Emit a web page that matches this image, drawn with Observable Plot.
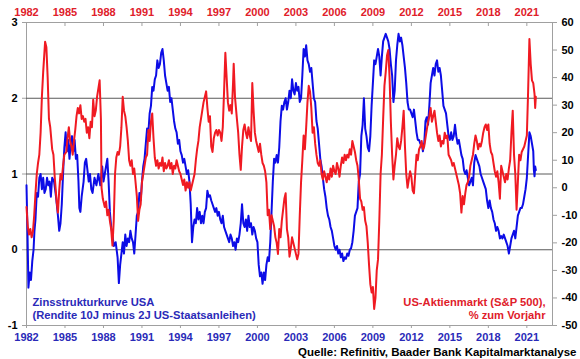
<!DOCTYPE html>
<html><head><meta charset="utf-8">
<script src="https://cdn.jsdelivr.net/npm/d3@7"></script>
<script src="https://cdn.jsdelivr.net/npm/@observablehq/plot@0.6"></script>
<style>body{margin:0;background:#fff} svg{display:block}</style>
</head><body><div id="chart"></div>
<script>
// Zinsstrukturkurve USA (10J minus 2J), Prozentpunkte — [Jahr, Wert]
const spread = [
[1982.0,0.85],[1982.08,0.2],[1982.15,-0.5],[1982.25,-0.3],[1982.35,-0.4],[1982.45,-0.15],[1982.55,0.0],[1982.62,0.25],[1982.7,0.4],[1982.8,0.75],[1982.9,0.7],
[1983.0,0.95],[1983.1,1.0],[1983.2,0.8],[1983.3,0.95],[1983.4,0.75],[1983.5,0.8],[1983.6,0.95],[1983.7,0.85],[1983.8,0.9],[1983.9,0.7],
[1984.0,0.95],[1984.15,0.9],[1984.3,0.7],[1984.45,0.45],[1984.55,0.25],[1984.65,0.35],[1984.75,0.6],[1984.85,1.0],[1984.95,1.35],
[1985.05,1.55],[1985.15,1.3],[1985.25,1.45],[1985.35,1.2],[1985.45,1.4],[1985.55,1.5],[1985.65,1.3],[1985.75,1.45],[1985.85,1.2],[1985.95,1.25],
[1986.05,0.9],[1986.12,0.55],[1986.2,0.5],[1986.3,0.7],[1986.45,0.9],[1986.55,1.15],[1986.65,1.2],[1986.75,1.05],[1986.85,0.9],[1986.95,1.0],
[1987.05,0.8],[1987.15,0.75],[1987.3,0.95],[1987.45,0.85],[1987.6,1.0],[1987.75,0.85],[1987.9,1.1],
[1988.0,0.9],[1988.15,1.05],[1988.3,1.2],[1988.4,0.9],[1988.5,0.5],[1988.6,0.3],[1988.7,0.2],[1988.8,0.05],[1988.95,0.1],
[1989.1,-0.1],[1989.2,-0.44],[1989.3,-0.2],[1989.4,-0.05],[1989.5,0.1],[1989.6,-0.05],[1989.7,0.2],[1989.8,0.05],[1989.9,0.15],
[1990.0,0.1],[1990.1,0.25],[1990.2,0.15],[1990.3,0.1],[1990.4,-0.05],[1990.5,0.2],[1990.6,0.45],[1990.7,0.5],[1990.8,0.75],[1990.9,0.65],
[1991.0,0.9],[1991.1,1.1],[1991.2,1.2],[1991.3,1.4],[1991.4,1.6],[1991.5,1.55],[1991.6,1.8],[1991.7,1.9],[1991.8,2.15],[1991.9,2.1],
[1992.0,2.25],[1992.1,2.3],[1992.2,2.5],[1992.3,2.4],[1992.4,2.45],[1992.5,2.6],[1992.6,2.65],[1992.7,2.5],[1992.8,2.3],[1992.9,2.2],
[1993.0,2.1],[1993.1,2.15],[1993.2,1.95],[1993.3,2.0],[1993.4,1.85],[1993.5,1.7],[1993.6,1.6],[1993.7,1.55],[1993.8,1.4],[1993.9,1.45],
[1994.0,1.3],[1994.1,1.25],[1994.2,1.15],[1994.3,1.2],[1994.4,1.1],[1994.5,1.0],[1994.6,1.05],[1994.7,0.9],[1994.8,0.6],[1994.9,0.1],
[1995.0,0.3],[1995.1,0.4],[1995.2,0.35],[1995.3,0.55],[1995.4,0.4],[1995.5,0.5],[1995.6,0.35],[1995.7,0.45],[1995.8,0.35],[1995.9,0.5],
[1996.0,0.55],[1996.1,0.78],[1996.2,0.7],[1996.3,0.72],[1996.4,0.65],[1996.5,0.6],[1996.6,0.55],[1996.7,0.5],[1996.8,0.55],[1996.9,0.45],
[1997.0,0.5],[1997.1,0.4],[1997.2,0.35],[1997.3,0.45],[1997.4,0.3],[1997.5,0.25],[1997.6,0.2],[1997.7,0.15],[1997.8,0.1],[1997.9,0.2],
[1998.0,0.15],[1998.1,0.05],[1998.2,0.1],[1998.3,0.0],[1998.4,0.15],[1998.5,0.1],[1998.6,0.2],[1998.7,0.35],[1998.8,0.6],[1998.9,0.35],
[1999.0,0.3],[1999.1,0.4],[1999.2,0.25],[1999.3,0.45],[1999.4,0.3],[1999.5,0.35],[1999.6,0.2],[1999.7,0.3],[1999.8,0.25],[1999.9,0.15],
[2000.0,0.1],[2000.1,-0.2],[2000.2,-0.35],[2000.3,-0.3],[2000.4,-0.45],[2000.5,-0.3],[2000.6,-0.4],[2000.7,-0.2],[2000.8,-0.1],[2000.9,-0.15],
[2001.0,0.1],[2001.1,0.5],[2001.2,0.9],[2001.3,1.2],[2001.4,1.15],[2001.5,1.25],[2001.6,1.15],[2001.7,1.35],[2001.8,1.7],[2001.9,1.9],
[2002.0,1.85],[2002.1,1.95],[2002.2,2.0],[2002.3,1.85],[2002.4,1.95],[2002.5,2.1],[2002.6,2.0],[2002.7,2.25],[2002.8,2.1],[2002.9,2.05],
[2003.0,2.2],[2003.1,2.1],[2003.2,2.15],[2003.3,1.95],[2003.4,2.0],[2003.5,2.3],[2003.6,2.65],[2003.7,2.55],[2003.8,2.7],[2003.9,2.5],
[2004.0,2.45],[2004.1,2.35],[2004.2,2.4],[2004.3,2.2],[2004.4,2.0],[2004.5,1.95],[2004.6,1.7],[2004.7,1.6],[2004.8,1.4],[2004.9,1.2],
[2005.0,1.1],[2005.1,0.95],[2005.2,0.8],[2005.3,0.7],[2005.4,0.55],[2005.5,0.45],[2005.6,0.4],[2005.7,0.3],[2005.8,0.25],[2005.9,0.15],
[2006.0,0.05],[2006.1,0.0],[2006.2,0.05],[2006.3,-0.05],[2006.4,0.0],[2006.5,-0.1],[2006.6,-0.05],[2006.7,-0.15],[2006.8,-0.1],[2006.9,-0.12],
[2007.0,-0.05],[2007.1,-0.08],[2007.2,0.0],[2007.3,0.02],[2007.4,0.1],[2007.5,0.25],[2007.6,0.45],[2007.7,0.5],[2007.8,0.55],[2007.9,0.9],
[2008.0,1.0],[2008.1,1.5],[2008.2,1.65],[2008.3,2.0],[2008.4,1.6],[2008.5,1.5],[2008.6,1.35],[2008.7,1.3],[2008.8,1.5],[2008.9,1.9],
[2009.0,2.2],[2009.1,2.5],[2009.2,2.45],[2009.3,2.55],[2009.4,2.65],[2009.5,2.55],[2009.6,2.3],[2009.7,2.55],[2009.8,2.75],[2009.9,2.8],
[2010.0,2.85],[2010.1,2.8],[2010.2,2.75],[2010.3,2.65],[2010.4,2.45],[2010.5,2.3],[2010.6,1.95],[2010.7,2.1],[2010.8,2.5],[2010.9,2.7],
[2011.0,2.85],[2011.1,2.75],[2011.2,2.8],[2011.3,2.7],[2011.4,2.55],[2011.5,2.4],[2011.6,2.2],[2011.7,1.95],[2011.8,1.85],[2011.9,1.85],
[2012.0,1.8],[2012.1,1.75],[2012.2,1.85],[2012.3,1.7],[2012.4,1.55],[2012.5,1.45],[2012.6,1.45],[2012.7,1.4],[2012.8,1.4],[2012.9,1.3],
[2013.0,1.4],[2013.1,1.7],[2013.2,1.75],[2013.3,1.65],[2013.4,1.9],[2013.5,2.2],[2013.6,2.3],[2013.7,2.4],[2013.8,2.3],[2013.9,2.45],
[2014.0,2.5],[2014.1,2.35],[2014.2,2.4],[2014.3,2.3],[2014.4,2.1],[2014.5,1.9],[2014.6,1.85],[2014.7,1.8],[2014.8,1.65],[2014.9,1.5],
[2015.0,1.45],[2015.1,1.55],[2015.2,1.45],[2015.3,1.5],[2015.4,1.65],[2015.5,1.5],[2015.6,1.4],[2015.7,1.45],[2015.8,1.35],[2015.9,1.25],
[2016.0,1.2],[2016.1,1.05],[2016.2,1.0],[2016.3,1.05],[2016.4,0.95],[2016.5,0.85],[2016.6,0.9],[2016.7,0.95],[2016.8,0.85],[2016.9,1.15],
[2017.0,1.25],[2017.1,1.2],[2017.2,1.15],[2017.3,1.1],[2017.4,1.0],[2017.5,0.95],[2017.6,0.9],[2017.7,0.85],[2017.8,0.8],[2017.9,0.65],
[2018.0,0.55],[2018.1,0.65],[2018.2,0.55],[2018.3,0.5],[2018.4,0.4],[2018.5,0.35],[2018.6,0.25],[2018.7,0.3],[2018.8,0.25],[2018.9,0.15],
[2019.0,0.18],[2019.1,0.15],[2019.2,0.2],[2019.3,0.15],[2019.4,0.1],[2019.5,0.05],[2019.6,-0.05],[2019.65,0.0],[2019.7,0.05],[2019.8,0.15],[2019.9,0.2],
[2020.0,0.25],[2020.1,0.15],[2020.2,0.3],[2020.3,0.45],[2020.4,0.5],[2020.5,0.55],[2020.6,0.55],[2020.7,0.6],[2020.8,0.7],[2020.9,0.8],
[2021.0,0.95],[2021.1,1.25],[2021.2,1.55],[2021.3,1.5],[2021.4,1.4],[2021.5,1.3],[2021.55,1.05],[2021.6,0.97],[2021.65,1.1],[2021.7,1.05]
];

// US-Aktienmarkt (S&P 500), % zum Vorjahr — [Jahr, Wert]
const sp500 = [
[1982.0,-7],[1982.1,-14],[1982.2,-17],[1982.3,-15],[1982.4,-18],[1982.5,-16],[1982.6,-10],[1982.7,-2],[1982.8,5],[1982.9,9],
[1983.0,12],[1983.1,20],[1983.2,33],[1983.3,42],[1983.45,53],[1983.55,51],[1983.65,40],[1983.75,25],[1983.85,22],
[1984.0,14],[1984.1,12],[1984.2,4],[1984.35,-5],[1984.45,-9],[1984.55,-1],[1984.65,5],[1984.75,3],[1984.85,8],[1984.95,12],
[1985.1,13],[1985.2,18],[1985.3,22],[1985.4,17],[1985.5,15],[1985.6,12],[1985.7,17],[1985.8,21],[1985.9,26],
[1986.0,29],[1986.1,27],[1986.2,30],[1986.3,25],[1986.4,26],[1986.5,24],[1986.6,25],[1986.7,20],[1986.8,22],[1986.9,18],
[1987.0,24],[1987.1,22],[1987.2,32],[1987.3,26],[1987.4,28],[1987.5,33],[1987.6,36],[1987.7,39],[1987.8,25],[1987.85,0],[1987.95,-4],
[1988.1,-7],[1988.2,-5],[1988.3,-10],[1988.4,-8],[1988.5,-12],[1988.6,-15],[1988.7,-21],[1988.8,-12],[1988.9,5],
[1989.0,11],[1989.1,13],[1989.2,12],[1989.3,15],[1989.4,22],[1989.5,33],[1989.6,28],[1989.7,26],[1989.8,22],[1989.9,17],
[1990.0,10],[1990.1,8],[1990.2,10],[1990.3,5],[1990.4,7],[1990.5,2],[1990.6,-3],[1990.7,-12],[1990.8,-8],[1990.9,-6],
[1991.0,2],[1991.1,5],[1991.2,8],[1991.3,11],[1991.4,12],[1991.5,21],[1991.6,17],[1991.7,24],[1991.8,27],[1991.9,18],
[1992.0,11],[1992.1,8],[1992.2,10],[1992.3,7],[1992.4,9],[1992.5,8],[1992.6,11],[1992.7,6],[1992.8,9],[1992.9,7],
[1993.0,8],[1993.1,10],[1993.2,7],[1993.3,9],[1993.4,5],[1993.5,8],[1993.6,7],[1993.7,10],[1993.8,8],[1993.9,6],
[1994.0,5],[1994.1,3],[1994.2,1],[1994.3,3],[1994.4,-1],[1994.5,2],[1994.6,0],[1994.7,2],[1994.8,-1],[1994.9,1],
[1995.0,3],[1995.1,5],[1995.2,10],[1995.3,14],[1995.4,17],[1995.5,22],[1995.6,25],[1995.7,28],[1995.8,31],[1995.9,33],
[1996.0,35],[1996.1,29],[1996.2,24],[1996.3,26],[1996.4,15],[1996.5,13],[1996.6,18],[1996.7,20],[1996.8,21],[1996.9,19],
[1997.0,21],[1997.1,20],[1997.2,17],[1997.3,22],[1997.4,35],[1997.5,49],[1997.6,40],[1997.7,31],[1997.8,28],[1997.9,30],
[1998.0,27],[1998.1,38],[1998.15,45],[1998.25,33],[1998.4,25],[1998.5,20],[1998.6,12],[1998.7,6.5],[1998.8,15],[1998.9,21],
[1999.0,23],[1999.1,20],[1999.2,18],[1999.3,22],[1999.4,19],[1999.5,17],[1999.6,38],[1999.7,28],[1999.8,20],[1999.9,17],
[2000.0,15],[2000.1,13],[2000.2,16],[2000.3,12],[2000.4,9],[2000.5,8],[2000.6,6],[2000.7,2],[2000.8,-10],[2000.9,-8],
[2001.0,-15],[2001.1,-10],[2001.2,-12],[2001.3,-14],[2001.4,-18],[2001.5,-20],[2001.6,-24],[2001.7,-15],[2001.8,-18],[2001.9,-12],
[2002.0,-8],[2002.1,-4],[2002.2,-2],[2002.3,-15],[2002.4,-18],[2002.5,-25],[2002.6,-22],[2002.7,-18],[2002.8,-20],[2002.9,-22],
[2003.0,-24],[2003.1,-26],[2003.2,-24],[2003.3,-10],[2003.4,2],[2003.5,10],[2003.6,19],[2003.7,14],[2003.8,22],[2003.9,31],
[2004.0,37],[2004.1,35],[2004.2,29],[2004.3,20],[2004.4,22],[2004.5,16],[2004.6,12],[2004.7,9],[2004.8,8],[2004.9,10],
[2005.0,5],[2005.1,3],[2005.2,6],[2005.3,4],[2005.4,2],[2005.5,5],[2005.6,3],[2005.7,7],[2005.8,4],[2005.9,8],
[2006.0,6],[2006.1,5],[2006.2,9],[2006.3,7],[2006.4,4],[2006.5,8],[2006.6,11],[2006.7,9],[2006.8,12],[2006.9,10],
[2007.0,12],[2007.1,11],[2007.2,14],[2007.3,12],[2007.4,17],[2007.5,15],[2007.6,13],[2007.7,10],[2007.8,8],[2007.9,3],
[2008.0,-4],[2008.1,-5],[2008.2,-8],[2008.3,-7],[2008.4,-12],[2008.5,-14],[2008.6,-20],[2008.7,-28],[2008.8,-35],[2008.9,-38],
[2009.0,-36],[2009.1,-44],[2009.2,-40],[2009.3,-30],[2009.4,-26],[2009.5,-12],[2009.6,5],[2009.7,12],[2009.8,25],[2009.9,37],
[2010.0,42],[2010.1,48],[2010.2,50],[2010.3,40],[2010.4,24],[2010.5,12],[2010.6,3],[2010.7,8],[2010.8,12],[2010.9,18],
[2011.0,15],[2011.1,14],[2011.2,17],[2011.3,22],[2011.4,28],[2011.5,15],[2011.6,5],[2011.7,0],[2011.8,3],[2011.9,6],
[2012.0,4],[2012.1,-1],[2012.2,-2],[2012.3,5],[2012.4,12],[2012.5,10],[2012.6,14],[2012.7,15],[2012.8,17],[2012.9,14],
[2013.0,15],[2013.1,18],[2013.2,21],[2013.3,24],[2013.4,26],[2013.5,29],[2013.6,24],[2013.7,26],[2013.8,28],[2013.9,24],
[2014.0,20],[2014.1,17],[2014.2,19],[2014.3,15],[2014.4,17],[2014.5,16],[2014.6,20],[2014.7,18],[2014.8,19],[2014.9,12],
[2015.0,11],[2015.1,10],[2015.2,8],[2015.3,9],[2015.4,7],[2015.5,5],[2015.6,3],[2015.7,1],[2015.8,-2],[2015.9,-9],
[2016.0,-3],[2016.1,-6],[2016.2,-2],[2016.3,1],[2016.4,2],[2016.5,4],[2016.6,8],[2016.7,10],[2016.8,12],[2016.9,16],
[2017.0,19],[2017.1,17],[2017.2,14],[2017.3,16],[2017.4,15],[2017.5,17],[2017.6,20],[2017.7,22],[2017.8,23],[2017.9,21],
[2018.0,23],[2018.1,16],[2018.2,13],[2018.3,12],[2018.4,9],[2018.5,6],[2018.6,4],[2018.7,6],[2018.8,2],[2018.9,-4],
[2019.0,8],[2019.1,6],[2019.2,4],[2019.3,2],[2019.4,5],[2019.5,3],[2019.6,7],[2019.7,10],[2019.8,20],[2019.9,28],
[2020.0,12],[2020.1,5],[2020.2,-8],[2020.3,2],[2020.4,12],[2020.5,10],[2020.6,13],[2020.7,14],[2020.8,15],[2020.9,17],
[2021.0,19],[2021.1,35],[2021.2,54],[2021.3,45],[2021.4,39],[2021.5,38],[2021.6,34],[2021.65,29],[2021.7,33]
];

const yearTicks = [1982,1985,1988,1991,1994,1997,2000,2003,2006,2009,2012,2015,2018,2021];
const leftTicks = [-1,0,1,2,3];
const rightTicks = [-50,-40,-30,-20,-10,0,10,20,30,40,50,60];
const gridLines = [0,1,2];
const leftDomain = [-1,3];
const rightDomain = [-50,60];
const xDomain = [1982,2023];

const spreadLabel = ["Zinsstrukturkurve USA","(Rendite 10J minus 2J US-Staatsanleihen)"];
const spLabel = ["US-Aktienmarkt (S&P 500),","% zum Vorjahr"];
const sourceLabel = "Quelle: Refinitiv, Baader Bank Kapitalmarktanalyse";

const BLUE = "#0c0ce6", RED = "#f01a22", BLUE_TXT = "#2a2ab8", RED_TXT = "#e0202a";

// map right-axis values onto the left scale
const toLeft = r => leftDomain[0] + (r - rightDomain[0]) * (leftDomain[1]-leftDomain[0]) / (rightDomain[1]-rightDomain[0]);
const fromLeft = v => rightDomain[0] + (v - leftDomain[0]) * (rightDomain[1]-rightDomain[0]) / (leftDomain[1]-leftDomain[0]);

const spreadData = spread.map(([t,v]) => ({t, v}));
const spData = sp500.map(([t,r]) => ({t, v: toLeft(r)}));

const chart = Plot.plot({
  width: 580, height: 359,
  marginTop: 22, marginBottom: 34, marginLeft: 26, marginRight: 28,
  style: {fontFamily: "'Liberation Sans', Arial, sans-serif", fontSize: "11px", fontWeight: "bold", background: "#fff", overflow: "visible"},
  x: {domain: xDomain},
  y: {domain: leftDomain},
  marks: [
    Plot.frame({stroke: "#a0a0a0"}),
    Plot.ruleY(gridLines, {stroke: "#5a5a5a", strokeWidth: 1}),
    Plot.tickX(yearTicks, {x: d => d, stroke: "#a0a0a0", insetBottom: 299}),
    Plot.axisX(yearTicks, {anchor: "top", tickFormat: d => String(d), tickSize: 0, tickPadding: 7, fill: RED_TXT, label: null}),
    Plot.axisX(yearTicks, {anchor: "bottom", tickFormat: d => String(d), tickSize: 3, tickPadding: 5, fill: BLUE_TXT, stroke: "#a0a0a0", label: null}),
    Plot.axisY(leftTicks, {anchor: "left", tickFormat: d => String(d), tickSize: 4, tickPadding: 5, fill: "#000", stroke: "#a0a0a0", label: null}),
    Plot.axisY(rightTicks.map(toLeft), {anchor: "right", tickFormat: v => String(Math.round(fromLeft(v))), tickSize: 4, tickPadding: 5, fill: "#000", stroke: "#a0a0a0", label: null}),
    Plot.line(spreadData, {x: "t", y: "v", stroke: BLUE, strokeWidth: 2, curve: "linear"}),
    Plot.line(spData, {x: "t", y: "v", stroke: RED, strokeWidth: 2, curve: "linear"}),
    Plot.text([spreadLabel[0]], {frameAnchor: "bottom-left", dx: 6, dy: -23, textAnchor: "start", lineAnchor: "middle", fill: BLUE_TXT, fontSize: 11.2}),
    Plot.text([spreadLabel[1]], {frameAnchor: "bottom-left", dx: 6, dy: -10, textAnchor: "start", lineAnchor: "middle", fill: BLUE_TXT, fontSize: 11.2}),
    Plot.text([spLabel[0]], {frameAnchor: "bottom-right", dx: -7, dy: -23, textAnchor: "end", lineAnchor: "middle", fill: RED_TXT, fontSize: 11.2}),
    Plot.text([spLabel[1]], {frameAnchor: "bottom-right", dx: -7, dy: -10, textAnchor: "end", lineAnchor: "middle", fill: RED_TXT, fontSize: 11.2}),
    Plot.text([sourceLabel], {frameAnchor: "bottom-right", dx: 24, dy: 27, textAnchor: "end", lineAnchor: "middle", fill: "#000", fontSize: 11.5})
  ]
});
document.getElementById("chart").appendChild(chart);
</script>
</body></html>
